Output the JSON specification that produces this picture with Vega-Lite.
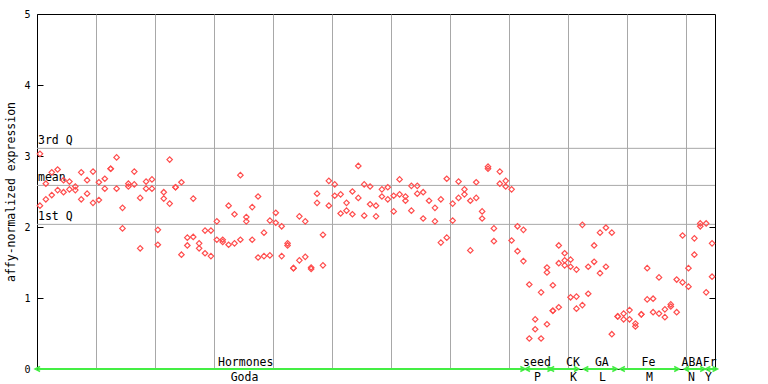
{
  "$schema": "https://vega.github.io/schema/vega-lite/v6.json",
  "width": 678,
  "height": 355,
  "autosize": "none",
  "padding": {"left": 37, "top": 14, "right": 53, "bottom": 15},
  "background": "white",
  "config": {"view": {"stroke": "black", "strokeWidth": 1}, "font": "DejaVu Sans Mono"},
  "datasets": {
    "pts": [
      {"x":0.5,"v":3.03},{"x":0.5,"v":2.30},{"x":1.5,"v":2.61},{"x":1.5,"v":2.39},{"x":2.5,"v":2.77},{"x":2.5,"v":2.45},
      {"x":3.5,"v":2.81},{"x":3.5,"v":2.52},{"x":4.5,"v":2.66},{"x":4.5,"v":2.49},{"x":5.5,"v":2.64},{"x":5.5,"v":2.53},
      {"x":6.5,"v":2.57},{"x":6.5,"v":2.52},{"x":7.5,"v":2.77},{"x":7.5,"v":2.39},{"x":8.5,"v":2.66},{"x":8.5,"v":2.47},
      {"x":9.5,"v":2.78},{"x":9.5,"v":2.34},{"x":10.5,"v":2.63},{"x":10.5,"v":2.38},{"x":11.5,"v":2.68},{"x":11.5,"v":2.54},
      {"x":12.5,"v":2.82},{"x":12.5,"v":2.82},{"x":13.5,"v":2.98},{"x":13.5,"v":2.54},{"x":14.5,"v":2.27},{"x":14.5,"v":1.98},
      {"x":15.5,"v":2.61},{"x":15.5,"v":2.57},{"x":16.5,"v":2.78},{"x":16.5,"v":2.60},{"x":17.5,"v":2.41},{"x":17.5,"v":1.70},
      {"x":18.5,"v":2.64},{"x":18.5,"v":2.54},{"x":19.5,"v":2.67},{"x":19.5,"v":2.54},{"x":20.5,"v":1.96},{"x":20.5,"v":1.75},
      {"x":21.5,"v":2.49},{"x":21.5,"v":2.40},{"x":22.5,"v":2.95},{"x":22.5,"v":2.33},{"x":23.5,"v":2.56},{"x":23.5,"v":2.56},
      {"x":24.5,"v":2.63},{"x":24.5,"v":1.61},{"x":25.5,"v":1.85},{"x":25.5,"v":1.74},{"x":26.5,"v":2.40},{"x":26.5,"v":1.86},
      {"x":27.5,"v":1.77},{"x":27.5,"v":1.70},{"x":28.5,"v":1.95},{"x":28.5,"v":1.63},{"x":29.5,"v":1.95},{"x":29.5,"v":1.59},
      {"x":30.5,"v":2.08},{"x":30.5,"v":1.82},{"x":31.5,"v":1.82},{"x":31.5,"v":1.79},{"x":32.5,"v":2.30},{"x":32.5,"v":1.75},
      {"x":33.5,"v":2.18},{"x":33.5,"v":1.77},{"x":34.5,"v":2.73},{"x":34.5,"v":1.82},{"x":35.5,"v":2.14},{"x":35.5,"v":2.08},
      {"x":36.5,"v":2.28},{"x":36.5,"v":1.82},{"x":37.5,"v":2.43},{"x":37.5,"v":1.57},{"x":38.5,"v":1.92},{"x":38.5,"v":1.59},
      {"x":39.5,"v":2.09},{"x":39.5,"v":1.60},{"x":40.5,"v":2.20},{"x":40.5,"v":2.06},{"x":41.5,"v":2.01},{"x":41.5,"v":1.59},
      {"x":42.5,"v":1.77},{"x":42.5,"v":1.74},{"x":43.5,"v":1.42},{"x":43.5,"v":1.42},{"x":44.5,"v":2.15},{"x":44.5,"v":1.53},
      {"x":45.5,"v":2.08},{"x":45.5,"v":1.58},{"x":46.5,"v":1.43},{"x":46.5,"v":1.41},{"x":47.5,"v":2.47},{"x":47.5,"v":2.34},
      {"x":48.5,"v":1.89},{"x":48.5,"v":1.46},{"x":49.5,"v":2.65},{"x":49.5,"v":2.30},{"x":50.5,"v":2.60},{"x":50.5,"v":2.44},
      {"x":51.5,"v":2.46},{"x":51.5,"v":2.19},{"x":52.5,"v":2.34},{"x":52.5,"v":2.23},{"x":53.5,"v":2.50},{"x":53.5,"v":2.18},
      {"x":54.5,"v":2.86},{"x":54.5,"v":2.41},{"x":55.5,"v":2.60},{"x":55.5,"v":2.16},{"x":56.5,"v":2.57},{"x":56.5,"v":2.32},
      {"x":57.5,"v":2.30},{"x":57.5,"v":2.15},{"x":58.5,"v":2.53},{"x":58.5,"v":2.43},{"x":59.5,"v":2.56},{"x":59.5,"v":2.39},
      {"x":60.5,"v":2.44},{"x":60.5,"v":2.22},{"x":61.5,"v":2.67},{"x":61.5,"v":2.46},{"x":62.5,"v":2.43},{"x":62.5,"v":2.37},
      {"x":63.5,"v":2.58},{"x":63.5,"v":2.23},{"x":64.5,"v":2.58},{"x":64.5,"v":2.47},{"x":65.5,"v":2.49},{"x":65.5,"v":2.12},
      {"x":66.5,"v":2.37},{"x":67.5,"v":2.27},{"x":67.5,"v":2.08},{"x":68.5,"v":2.39},{"x":68.5,"v":1.78},
      {"x":69.5,"v":2.68},{"x":69.5,"v":1.85},{"x":70.5,"v":2.33},{"x":70.5,"v":2.09},{"x":71.5,"v":2.64},{"x":71.5,"v":2.41},
      {"x":72.5,"v":2.53},{"x":72.5,"v":2.46},{"x":73.5,"v":2.37},{"x":73.5,"v":1.67},{"x":74.5,"v":2.63},{"x":74.5,"v":2.41},
      {"x":75.5,"v":2.22},{"x":75.5,"v":2.12},{"x":76.5,"v":2.85},{"x":76.5,"v":2.82},{"x":77.5,"v":1.98},{"x":77.5,"v":1.80},
      {"x":78.5,"v":2.78},{"x":78.5,"v":2.61},{"x":79.5,"v":2.65},{"x":79.5,"v":2.57},{"x":80.5,"v":2.53},{"x":80.5,"v":1.81},
      {"x":81.5,"v":2.01},{"x":81.5,"v":1.66},{"x":82.5,"v":1.96},{"x":82.5,"v":1.52},{"x":83.5,"v":1.19},{"x":83.5,"v":0.43},
      {"x":84.5,"v":0.70},{"x":84.5,"v":0.56},{"x":85.5,"v":1.08},{"x":85.5,"v":0.43},{"x":86.5,"v":1.43},{"x":86.5,"v":1.36},
      {"x":86.5,"v":0.63},{"x":87.5,"v":1.18},{"x":87.5,"v":0.82},{"x":87.5,"v":0.82},{"x":88.5,"v":1.74},{"x":88.5,"v":1.49},
      {"x":88.5,"v":0.87},{"x":89.5,"v":1.63},{"x":89.5,"v":1.53},{"x":89.5,"v":1.46},{"x":90.5,"v":1.54},{"x":90.5,"v":1.44},
      {"x":90.5,"v":1.01},{"x":91.5,"v":1.40},{"x":91.5,"v":1.02},{"x":91.5,"v":0.85},{"x":92.5,"v":2.03},{"x":92.5,"v":0.90},
      {"x":93.5,"v":1.44},{"x":93.5,"v":1.06},{"x":94.5,"v":1.74},{"x":94.5,"v":1.51},{"x":95.5,"v":1.92},{"x":95.5,"v":1.35},
      {"x":96.5,"v":1.99},{"x":96.5,"v":1.44},{"x":97.5,"v":1.92},{"x":97.5,"v":0.49},{"x":98.5,"v":0.74},{"x":98.5,"v":0.74},
      {"x":99.5,"v":0.78},{"x":99.5,"v":0.70},{"x":100.5,"v":0.83},{"x":100.5,"v":0.70},{"x":101.5,"v":0.64},{"x":101.5,"v":0.60},
      {"x":102.5,"v":0.77},{"x":102.5,"v":0.77},{"x":103.5,"v":1.42},{"x":103.5,"v":0.98},{"x":104.5,"v":0.99},{"x":104.5,"v":0.80},
      {"x":105.5,"v":1.29},{"x":105.5,"v":0.78},{"x":106.5,"v":0.84},{"x":106.5,"v":0.73},{"x":107.5,"v":0.91},{"x":107.5,"v":0.88},
      {"x":108.5,"v":1.26},{"x":108.5,"v":0.80},{"x":109.5,"v":1.88},{"x":109.5,"v":1.22},{"x":110.5,"v":1.42},{"x":110.5,"v":1.16},
      {"x":111.5,"v":1.84},{"x":111.5,"v":1.61},{"x":112.5,"v":2.05},{"x":112.5,"v":2.01},{"x":113.5,"v":2.05},{"x":113.5,"v":1.08},
      {"x":114.5,"v":1.77},{"x":114.5,"v":1.30}
    ],
    "stats": [
      {"name": "3rd Q", "v": 3.108},
      {"name": "mean", "v": 2.586},
      {"name": "1st Q", "v": 2.037}
    ],
    "groups": [
      {"top": "Hormones", "bottom": "Goda", "start": 0.1, "end": 82.4, "tpos": 35.4, "bpos": 35.2},
      {"top": "seed", "bottom": "P", "start": 83.2, "end": 87.0, "tpos": 84.8, "bpos": 84.9},
      {"top": "CK", "bottom": "K", "start": 87.3, "end": 91.5, "tpos": 90.9, "bpos": 91.0},
      {"top": "GA", "bottom": "L", "start": 93.1, "end": 98.0, "tpos": 95.8, "bpos": 95.9},
      {"top": "Fe", "bottom": "M", "start": 99.3, "end": 108.5, "tpos": 103.7, "bpos": 103.9},
      {"top": "ABA", "bottom": "N", "start": 110.2, "end": 112.9, "tpos": 111.1, "bpos": 111.0},
      {"top": "Fr", "bottom": "Y", "start": 113.8, "end": 115.0, "tpos": 114.1, "bpos": 113.9}
    ]
  },
  "resolve": {"axis": {"y": "independent", "x": "independent"}},
  "layer": [
    {
      "data": {"name": "stats"},
      "mark": {"type": "rule", "color": "#a8a8a8", "strokeWidth": 1},
      "encoding": {
        "y": {"field": "v", "type": "quantitative", "scale": {"domain": [0, 5], "nice": false},
              "axis": {"orient": "right", "values": [1, 2], "labels": false, "tickSize": -6, "tickColor": "black", "domain": false, "grid": false, "title": null}}
      }
    },
    {
      "data": {"name": "stats"},
      "mark": {"type": "text", "align": "left", "baseline": "alphabetic", "dy": -4, "dx": 1, "fontSize": 11.5, "font": "DejaVu Sans Mono", "color": "black"},
      "encoding": {
        "x": {"datum": 0, "type": "quantitative", "axis": null},
        "y": {"field": "v", "type": "quantitative", "axis": null},
        "text": {"field": "name"}
      }
    },
    {
      "data": {"name": "pts"},
      "mark": {"type": "point", "shape": "diamond", "filled": false, "stroke": "#ff4d4d", "strokeWidth": 1.2, "size": 30, "opacity": 1},
      "encoding": {
        "x": {"field": "x", "type": "quantitative", "scale": {"domain": [0, 115], "nice": false, "zero": false},
              "axis": {"values": [10, 20, 30, 40, 50, 60, 70, 80, 90, 100, 110], "grid": true, "gridColor": "#a8a8a8", "gridWidth": 1, "labels": false, "ticks": false, "domain": false, "title": null}},
        "y": {"field": "v", "type": "quantitative",
              "axis": {"values": [0, 1, 2, 3, 4, 5], "grid": false, "tickSize": -6, "tickColor": "black", "domain": false,
                       "labelFont": "DejaVu Sans Mono", "labelFontSize": 10, "labelColor": "black", "labelPadding": 13, "labelFlush": false,
                       "title": "affy-normalized expression", "titleFont": "DejaVu Sans Mono", "titleFontSize": 11.5, "titleFontWeight": "normal", "titleColor": "black",
                       "titleAngle": 270, "titleAlign": "center", "titleBaseline": "middle", "titleX": -26, "titleY": 177.5}}
      }
    },
    {
      "data": {"name": "groups"},
      "mark": {"type": "rule", "color": "#44ee44", "strokeWidth": 2},
      "encoding": {
        "x": {"field": "start", "type": "quantitative", "axis": null},
        "x2": {"field": "end"},
        "y": {"datum": 0, "type": "quantitative", "axis": null}
      }
    },
    {
      "data": {"name": "groups"},
      "mark": {"type": "point", "shape": "M1,-1L-1,0L1,1", "filled": false, "stroke": "#44ee44", "strokeWidth": 1.5, "size": 25, "opacity": 1},
      "encoding": {
        "x": {"field": "start", "type": "quantitative", "axis": null},
        "y": {"datum": 0, "type": "quantitative", "axis": null}
      }
    },
    {
      "data": {"name": "groups"},
      "mark": {"type": "point", "shape": "M-1,-1L1,0L-1,1", "filled": false, "stroke": "#44ee44", "strokeWidth": 1.5, "size": 25, "opacity": 1},
      "encoding": {
        "x": {"field": "end", "type": "quantitative", "axis": null},
        "y": {"datum": 0, "type": "quantitative", "axis": null}
      }
    },
    {
      "data": {"name": "groups"},
      "mark": {"type": "text", "align": "center", "baseline": "alphabetic", "dy": -3, "fontSize": 11.5, "font": "DejaVu Sans Mono", "color": "black"},
      "encoding": {
        "x": {"field": "tpos", "type": "quantitative", "axis": null},
        "y": {"datum": 0, "type": "quantitative", "axis": null},
        "text": {"field": "top"}
      }
    },
    {
      "data": {"name": "groups"},
      "mark": {"type": "text", "align": "center", "baseline": "alphabetic", "dy": 12, "fontSize": 11.5, "font": "DejaVu Sans Mono", "color": "black"},
      "encoding": {
        "x": {"field": "bpos", "type": "quantitative", "axis": null},
        "y": {"datum": 0, "type": "quantitative", "axis": null},
        "text": {"field": "bottom"}
      }
    }
  ]
}
